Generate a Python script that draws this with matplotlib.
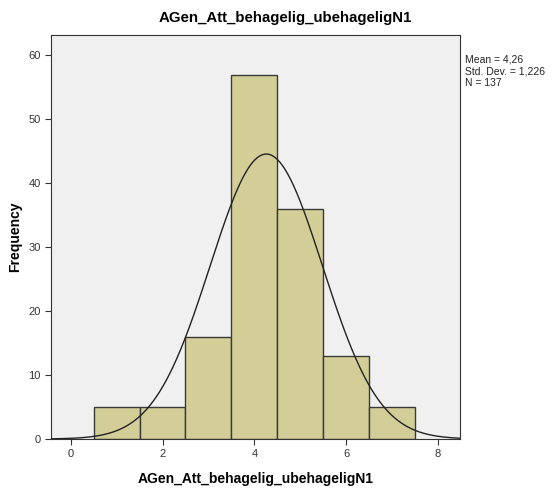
import numpy as np
import matplotlib
matplotlib.use("Agg")
import matplotlib.pyplot as plt

plt.rcParams['font.family'] = ['Liberation Sans', 'DejaVu Sans']

# histogram data
bin_centers = [1, 2, 3, 4, 5, 6, 7]
counts = [5, 5, 16, 57, 36, 13, 5]
mean = 4.26
std = 1.226
n = 137
title = "AGen_Att_behagelig_ubehageligN1"

fig = plt.figure(figsize=(5.56, 4.95), dpi=100)
ax = fig.add_axes([51 / 556, 56 / 495, 409 / 556, 404 / 495])
ax.set_facecolor("#f0f0f0")

ax.bar(bin_centers, counts, width=1.0, color="#d3ce98", edgecolor="#3a3a3a",
       linewidth=1.0, zorder=2)

xs = np.linspace(-0.45, 8.5, 400)
ys = n * 1.0 / (std * np.sqrt(2 * np.pi)) * np.exp(-0.5 * ((xs - mean) / std) ** 2)
ax.plot(xs, ys, color="#222222", linewidth=1.0, zorder=3)

ax.set_xlim(-0.43, 8.48)
ax.set_ylim(0, 63.2)
ax.set_xticks([0, 2, 4, 6, 8])
ax.set_yticks([0, 10, 20, 30, 40, 50, 60])
ax.tick_params(direction="out", length=4, width=0.8, colors="#333333",
               labelsize=8, labelcolor="#333333")
for s in ax.spines.values():
    s.set_color("#333333")
    s.set_linewidth(0.8)

ax.set_xlabel(title, fontsize=10, fontweight="bold", labelpad=9)

fig.text(15 / 556, 1 - 237 / 495, "Frequency", rotation=90, ha="center",
         va="center", fontsize=10, fontweight="bold")

fig.text(285 / 556, 1 - 18 / 495, title, ha="center", va="center",
         fontsize=10.8, fontweight="bold")

fig.text(465 / 556, 1 - 71 / 495,
         "Mean = 4,26\nStd. Dev. = 1,226\nN = 137",
         ha="left", va="center", fontsize=7.5, linespacing=1.2, color="#222222")

fig.savefig("out.png", dpi=100)
